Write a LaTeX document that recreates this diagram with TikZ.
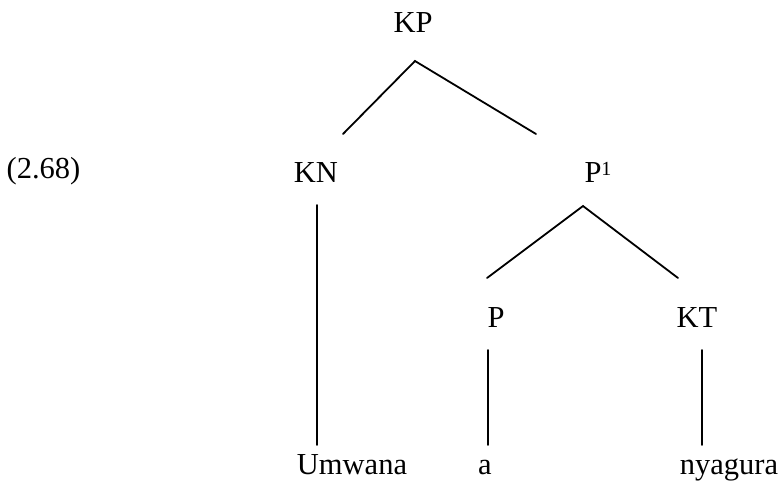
\documentclass[tikz,border=0pt]{standalone}
\usepackage{fontspec}
\setmainfont{Liberation Serif}
\usetikzlibrary{calc}
\usetikzlibrary{positioning}
\begin{document}
\begin{tikzpicture}[x=1pt,y=-1pt,
every node/.style={inner sep=0pt,anchor=base,font=\fontsize{30.5}{36}\selectfont},
branch/.style={line width=1.8pt,line cap=round}]
\useasboundingbox (0,0) rectangle (784,482);
\node (ex) at (43.5,178) {(2.68)};
\node (KP) at (413,32) {KP};
\node (KN) at (316,182) {KN};
\node (P1) at (598,182) {P\raisebox{7pt}{\fontsize{20}{20}\selectfont 1}};
\node (P) at (496,327) {P};
\node (KT) at (697,327) {KT};
\node (Umwana) at (352,474) {Umwana};
\node (a) at (485,474) {a};
\node (nyagura) at (729,474) {nyagura};
\draw[branch] ($(KN.base)+(27,-48)$) -- ($(KP.base)+(2,29)$) -- ($(P1.base)+(-62,-48)$);
\draw[branch] ($(KN.base)+(1,23)$) -- ($(Umwana.base)+(-35,-29)$);
\draw[branch] ($(P.base)+(-9,-49)$) -- ($(P1.base)+(-15,24)$) -- ($(KT.base)+(-19,-49)$);
\draw[branch] ($(P.base)+(-8,23)$) -- ($(a.base)+(3,-29)$);
\draw[branch] ($(KT.base)+(5,23)$) -- ($(nyagura.base)+(-27,-29)$);
\end{tikzpicture}
\end{document}
